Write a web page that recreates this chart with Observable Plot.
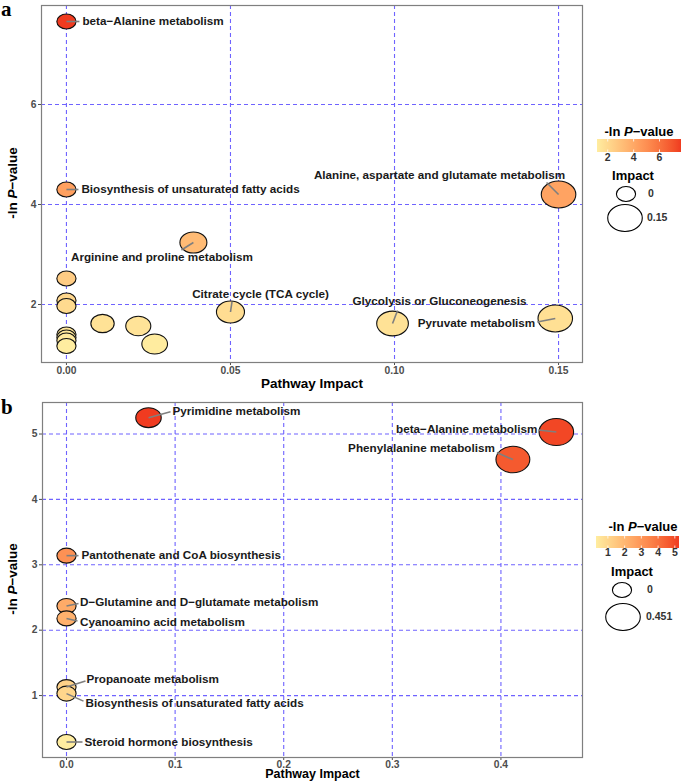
<!DOCTYPE html>
<html><head><meta charset="utf-8">
<script src="https://cdn.jsdelivr.net/npm/d3@7"></script>
<script src="https://cdn.jsdelivr.net/npm/@observablehq/plot@0.6"></script>
<style>
body{margin:0;background:#fff;}
#root{position:relative;width:685px;height:783px;overflow:hidden;}
#root svg{position:absolute;left:0;}
</style></head><body><div id="root"></div>
<script>
// ---------- Panel a data ----------
const pathwayA = ["beta−Alanine metabolism","Biosynthesis of unsaturated fatty acids","Alanine, aspartate and glutamate metabolism","Arginine and proline metabolism","","","","Citrate cycle (TCA cycle)","Pyruvate metabolism","Glycolysis or Gluconeogenesis","","","","","","",""];
const impactA  = [0, 0, 0.15, 0.0387, 0, 0, 0, 0.05, 0.149, 0.0994, 0.011, 0.0219, 0, 0, 0, 0.0269, 0];
const lnpA     = [7.66, 4.30, 4.20, 3.24, 2.52, 2.08, 1.97, 1.85, 1.72, 1.62, 1.62, 1.57, 1.40, 1.34, 1.28, 1.21, 1.17];
const xTicksA = [0, 0.05, 0.10, 0.15];
const yTicksA = [2, 4, 6];
const legendTicksA = [2, 4, 6];
const sizeBreaksA = [0, 0.15];

// ---------- Panel b data ----------
const pathwayB = ["Pyrimidine metabolism","beta−Alanine metabolism","Phenylalanine metabolism","Pantothenate and CoA biosynthesis","D−Glutamine and D−glutamate metabolism","Cyanoamino acid metabolism","Propanoate metabolism","Biosynthesis of unsaturated fatty acids","Steroid hormone biosynthesis"];
const impactB  = [0.0755, 0.451, 0.411, 0, 0, 0, 0, 0, 0];
const lnpB     = [5.25, 5.03, 4.61, 3.14, 2.37, 2.18, 1.13, 1.03, 0.29];
const xTicksB = [0, 0.1, 0.2, 0.3, 0.4];
const yTicksB = [1, 2, 3, 4, 5];
const legendTicksB = [1, 2, 3, 4, 5];
const sizeBreaksB = [0, 0.451];

// ---------- label layout (pixel nudges, like ggrepel) ----------
const layoutA = [
  {name:"beta−Alanine metabolism", dx:16, dy:0, anchor:"start", lx:13, ly:0},
  {name:"Biosynthesis of unsaturated fatty acids", dx:15, dy:0, anchor:"start", lx:12, ly:0},
  {name:"Alanine, aspartate and glutamate metabolism", dx:-119, dy:-19, anchor:"middle", lx:-12, ly:-12},
  {name:"Arginine and proline metabolism", dx:-31.5, dy:15, anchor:"middle", lx:-12, ly:7.5},
  {name:"Citrate cycle (TCA cycle)", dx:30, dy:-18, anchor:"middle", lx:1.5, ly:-10},
  {name:"Glycolysis or Gluconeogenesis", dx:47, dy:-22, anchor:"middle", lx:5, ly:-13},
  {name:"Pyruvate metabolism", dx:-20, dy:5, anchor:"end", lx:-18, ly:3.5}
];
const layoutB = [
  {name:"Pyrimidine metabolism", dx:24, dy:-6, anchor:"start", lx:22, ly:-6},
  {name:"beta−Alanine metabolism", dx:-19, dy:-3, anchor:"end", lx:-18, ly:-2},
  {name:"Phenylalanine metabolism", dx:-18, dy:-11, anchor:"end", lx:-16, ly:-7},
  {name:"Pantothenate and CoA biosynthesis", dx:15, dy:0, anchor:"start", lx:12, ly:0},
  {name:"D−Glutamine and D−glutamate metabolism", dx:13.5, dy:-3.5, anchor:"start", lx:12, ly:-2.5},
  {name:"Cyanoamino acid metabolism", dx:13.5, dy:4, anchor:"start", lx:11, ly:2.5},
  {name:"Propanoate metabolism", dx:20, dy:-8, anchor:"start", lx:19, ly:-6},
  {name:"Biosynthesis of unsaturated fatty acids", dx:19, dy:9.5, anchor:"start", lx:17, ly:7.5},
  {name:"Steroid hormone biosynthesis", dx:18, dy:0, anchor:"start", lx:16, ly:0}
];

const FONT = '"Liberation Sans", Arial, Helvetica, sans-serif';
const GRID = "#6f63ff";
const LOW = "#FFEDA0", HIGH = "#F03B20";
const ASPECT = 1.28;

function ellipsePath(ctx, ry) {
  const rx = ry * ASPECT, k = 0.5523;
  ctx.moveTo(rx, 0);
  ctx.bezierCurveTo(rx, ry*k, rx*k, ry, 0, ry);
  ctx.bezierCurveTo(-rx*k, ry, -rx, ry*k, -rx, 0);
  ctx.bezierCurveTo(-rx, -ry*k, -rx*k, -ry, 0, -ry);
  ctx.bezierCurveTo(rx*k, -ry, rx, -ry*k, rx, 0);
  ctx.closePath();
}
const ellipse = {draw(ctx, size) { ellipsePath(ctx, Math.sqrt(size / Math.PI)); }};
function leaderSymbol(ex, ey) { return {draw(ctx) { ctx.moveTo(0, 0); ctx.lineTo(ex, ey); }}; }

function buildPanel(o) {
  const data = o.names.map((name, i) => ({name, impact: o.impact[i], lnp: o.lnp[i]}));
  const cdom = d3.extent(o.lnp);
  const leaders = [], labels = [];
  o.layout.forEach(L => {
    const d = data.find(e => e.name === L.name);
    leaders.push(Plot.dot([d], {x: "impact", y: "lnp", r: 1, symbol: leaderSymbol(L.lx, L.ly), fill: "none", stroke: "#7f7f7f", strokeWidth: 1.6}));
    labels.push(Plot.text([d], {x: "impact", y: "lnp", text: "name", dx: L.dx, dy: L.dy, textAnchor: L.anchor, fill: "#1a1a1a", fontSize: 11.7, fontWeight: "bold"}));
  });
  const svg = Plot.plot({
    width: 685, height: o.height,
    marginLeft: o.ml, marginRight: 103, marginTop: o.mt, marginBottom: o.mb,
    style: {fontFamily: FONT, fontSize: "10.3px", fontWeight: "bold", color: "#4d4d4d", background: "#fff", overflow: "visible"},
    x: {domain: o.xdom, ticks: o.xTicks, tickFormat: o.xFormat, tickSize: 3, tickPadding: o.xPad, label: null},
    y: {domain: o.ydom, ticks: o.yTicks, tickFormat: d3.format("d"), tickSize: 3, tickPadding: 2, label: null},
    r: {type: "sqrt", domain: [0, o.rmax], range: [7.5, 13.5]},
    color: {type: "linear", domain: cdom, range: [LOW, HIGH], interpolate: "lab"},
    marks: [
      Plot.ruleX(o.xTicks, {stroke: GRID, strokeWidth: 1.1, strokeDasharray: "4,3"}),
      Plot.ruleY(o.yTicks, {stroke: GRID, strokeWidth: 1.1, strokeDasharray: "4,3"}),
      Plot.frame({stroke: "#7f7f7f", strokeWidth: 1.2}),
      Plot.dot(data, {x: "impact", y: "lnp", r: "impact", fill: "lnp", stroke: "#111", strokeWidth: 1.1, symbol: ellipse, sort: null}),
      ...leaders,
      ...labels,
      Plot.text(["Pathway Impact"], {text: d => d, frameAnchor: "bottom", dy: o.xTitleDy, fontSize: o.xTitleSize, fontWeight: "bold", fill: "#000"})
    ]
  });
  svg.style.top = o.top + "px";
  const s = d3.select(svg);
  // y title with italic P
  const yt = s.append("text")
    .attr("transform", `translate(13,${o.yTitleY}) rotate(-90)`)
    .attr("text-anchor", "middle").attr("dominant-baseline", "middle")
    .attr("font-family", FONT).attr("font-size", 13.5).attr("font-weight", "bold").attr("fill", "#000");
  yt.append("tspan").text("-ln ");
  yt.append("tspan").attr("font-style", "italic").text("P");
  yt.append("tspan").text("−value");
  // panel letter
  s.append("text").attr("x", 1).attr("y", o.letterY).attr("text-anchor", "start")
    .attr("font-family", '"Liberation Serif", "DejaVu Serif", serif').attr("font-size", 21).attr("font-weight", "bold").attr("fill", "#000")
    .text(o.letter);
  // legend
  const Lg = o.legend;
  const lt = s.append("text").attr("x", Lg.titleX).attr("y", Lg.titleY)
    .attr("text-anchor", "middle").attr("dominant-baseline", "middle")
    .attr("font-family", FONT).attr("font-size", 13).attr("font-weight", "bold").attr("fill", "#000");
  lt.append("tspan").text("-ln ");
  lt.append("tspan").attr("font-style", "italic").text("P");
  lt.append("tspan").text("−value");
  const cs = d3.scaleLinear().domain(cdom).range([LOW, HIGH]).interpolate(d3.interpolateLab);
  const gid = "grad" + o.letter;
  const grad = s.append("defs").append("linearGradient").attr("id", gid).attr("x1", "0%").attr("x2", "100%");
  d3.range(0, 1.0001, 0.05).forEach(t => {
    grad.append("stop").attr("offset", (t*100) + "%").attr("stop-color", cs(cdom[0] + t*(cdom[1]-cdom[0])));
  });
  s.append("rect").attr("x", Lg.barX0).attr("y", Lg.barY).attr("width", Lg.barX1 - Lg.barX0).attr("height", Lg.barH).attr("fill", `url(#${gid})`);
  const bx = d3.scaleLinear().domain(cdom).range([Lg.barX0, Lg.barX1]);
  o.legendTicks.forEach(t => {
    s.append("line").attr("x1", bx(t)).attr("x2", bx(t)).attr("y1", Lg.barY).attr("y2", Lg.barY + 2.5).attr("stroke", "#fff").attr("stroke-width", 0.8);
    s.append("line").attr("x1", bx(t)).attr("x2", bx(t)).attr("y1", Lg.barY + Lg.barH - 2.5).attr("y2", Lg.barY + Lg.barH).attr("stroke", "#fff").attr("stroke-width", 0.8);
    s.append("text").attr("x", bx(t)).attr("y", Lg.tickY).attr("text-anchor", "middle").attr("dominant-baseline", "middle")
      .attr("font-family", FONT).attr("font-size", 10.5).attr("font-weight", "bold").attr("fill", "#333").text(t);
  });
  s.append("text").attr("x", Lg.impX).attr("y", Lg.impY).attr("text-anchor", "middle").attr("dominant-baseline", "middle")
    .attr("font-family", FONT).attr("font-size", 13).attr("font-weight", "bold").attr("fill", "#000").text("Impact");
  const rs = svg.scale("r");
  const rf = rs && rs.apply ? (v => rs.apply(v)) : d3.scalePow().exponent(0.5).domain([0, o.rmax]).range([7.5, 13.5]);
  o.sizeBreaks.forEach((b, i) => {
    const p = d3.path(); ellipsePath(p, rf(b));
    s.append("path").attr("d", p.toString()).attr("transform", `translate(${Lg.keyX[i]},${Lg.keyY[i]})`)
      .attr("fill", "#fff").attr("stroke", "#000").attr("stroke-width", 1.1);
    s.append("text").attr("x", Lg.keyLabelX[i]).attr("y", Lg.keyY[i]).attr("text-anchor", "start").attr("dominant-baseline", "middle")
      .attr("font-family", FONT).attr("font-size", 10.5).attr("font-weight", "bold").attr("fill", "#333").text(String(b));
  });
  return svg;
}

const root = document.getElementById("root");
root.appendChild(buildPanel({
  letter: "a", letterY: 16, top: 0, height: 392, ml: 41, mt: 5, mb: 30,
  names: pathwayA, impact: impactA, lnp: lnpA, layout: layoutA,
  xdom: [-0.0076, 0.1573], ydom: [0.84, 7.98], xTicks: xTicksA, yTicks: yTicksA,
  xFormat: d3.format(".2f"), xPad: 1.5, rmax: 0.15, xTitleDy: 25, xTitleSize: 13.5, yTitleY: 183,
  legendTicks: legendTicksA, sizeBreaks: sizeBreaksA,
  legend: {titleX: 639, titleY: 133, barX0: 597, barX1: 681, barY: 139, barH: 13, tickY: 158,
           impX: 633, impY: 177, keyX: [626, 625], keyY: [194, 218], keyLabelX: [648, 647]}
}));
root.appendChild(buildPanel({
  letter: "b", letterY: 22, top: 392, height: 391, ml: 42, mt: 10, mb: 26,
  names: pathwayB, impact: impactB, lnp: lnpB, layout: layoutB,
  xdom: [-0.0221, 0.4751], ydom: [0.053, 5.482], xTicks: xTicksB, yTicks: yTicksB,
  xFormat: d3.format(".1f"), xPad: 0, rmax: 0.451, xTitleDy: 20.5, xTitleSize: 12.5, yTitleY: 187,
  legendTicks: legendTicksB, sizeBreaks: sizeBreaksB,
  legend: {titleX: 643, titleY: 136, barX0: 596, barX1: 679, barY: 144, barH: 12, tickY: 161,
           impX: 632, impY: 181, keyX: [622, 623], keyY: [198, 225], keyLabelX: [647, 646]}
}));
</script></body></html>
